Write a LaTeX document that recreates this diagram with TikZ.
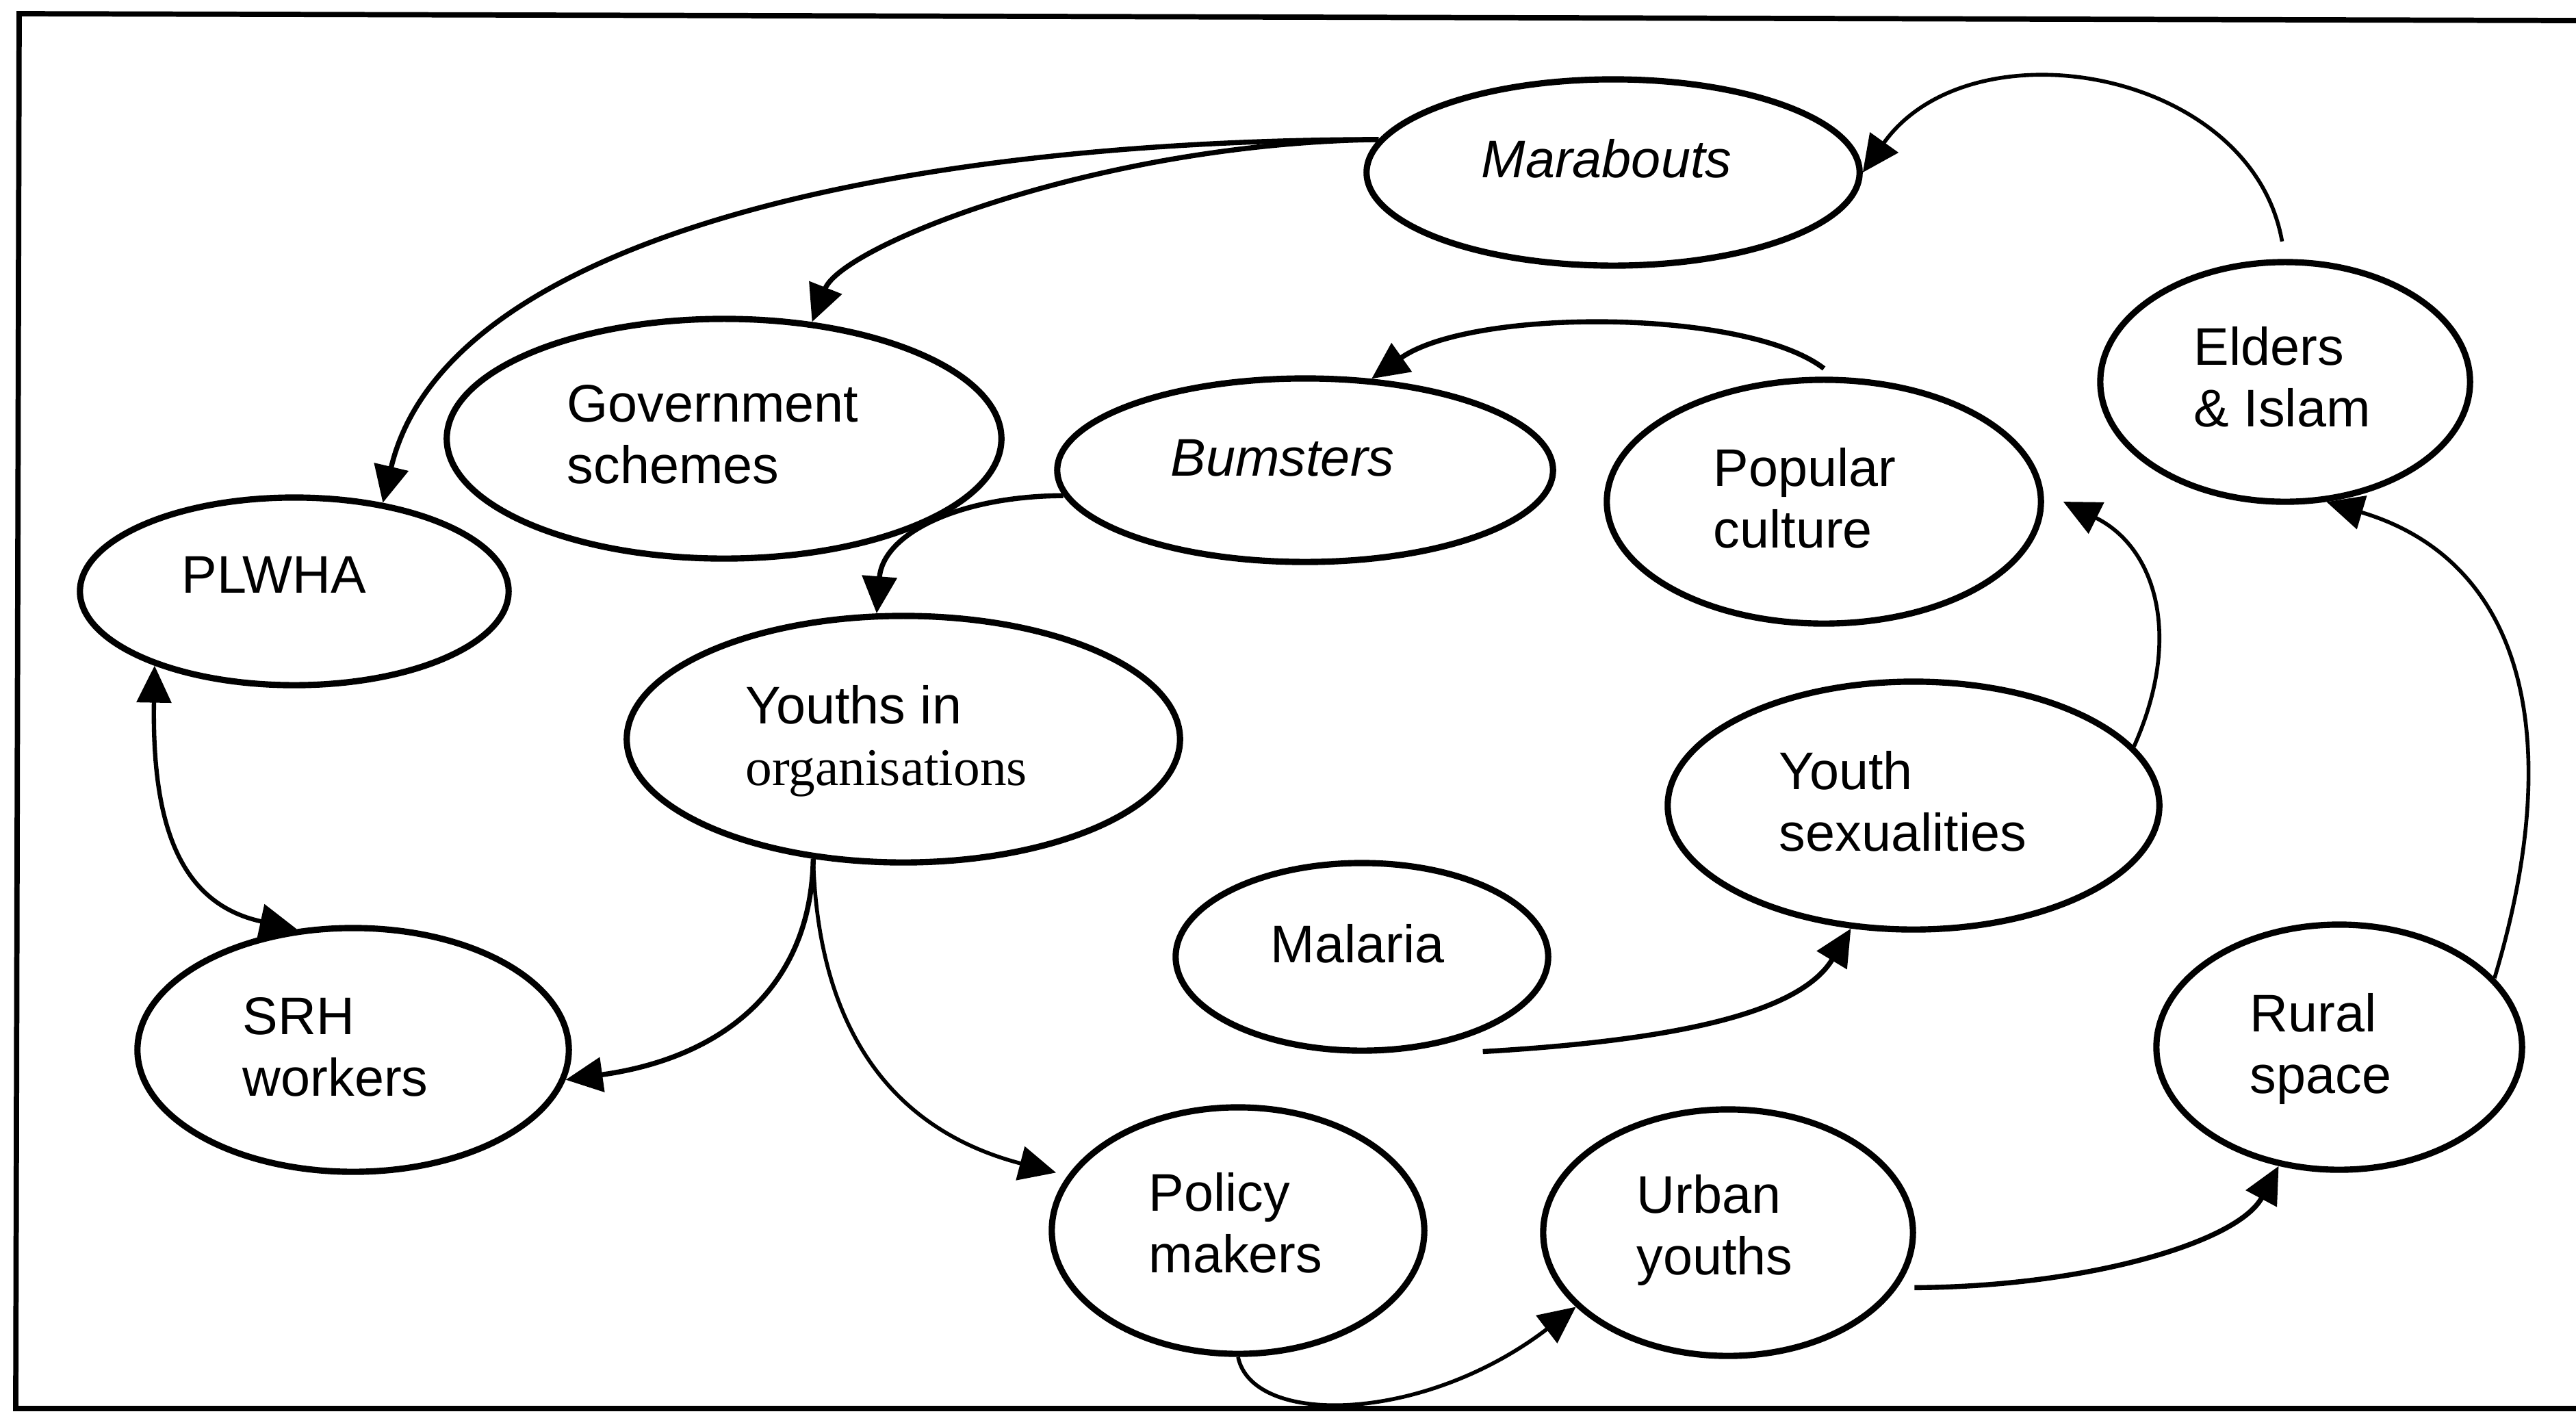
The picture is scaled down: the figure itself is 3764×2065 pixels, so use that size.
\documentclass[tikz,border=0pt]{standalone}
\usepackage{fontspec}
\setmainfont{Liberation Sans}
\newfontfamily\timesfont{Liberation Serif}
\usetikzlibrary{arrows.meta,shapes.geometric}

\begin{document}
\begin{tikzpicture}[x=0.01cm,y=-0.01cm,
  bubble/.style={draw, ellipse, line width=2.6pt, inner sep=0pt},
  lbl/.style={anchor=base west, inner sep=0pt, align=left,
              font=\fontsize{22}{25.6}\selectfont},
  conn/.style={-{Triangle[length=5.4mm,width=5mm]}, line width=2.1pt},
  connthin/.style={conn, line width=1.6pt},
  conntwo/.style={{Triangle[length=5.4mm,width=5mm]}-{Triangle[length=5.4mm,width=5mm]}, line width=1.8pt}
]
\useasboundingbox (0,0) rectangle (3764,2065);
\fill[white] (0,0) rectangle (3764,2065);

% frame (open on the right)
\draw[line width=2.2pt] (3764,30) -- (28,20) -- (23,2058) -- (3764,2058);

% bubbles
\node[bubble, minimum width=6.26cm, minimum height=2.74cm] (plw) at (430,864) {};
\node[bubble, minimum width=8.10cm, minimum height=3.50cm] (gov) at (1058,641) {};
\node[bubble, minimum width=7.20cm, minimum height=2.72cm] (mar) at (2357,252) {};
\node[bubble, minimum width=7.24cm, minimum height=2.68cm] (bum) at (1907,687) {};
\node[bubble, minimum width=6.34cm, minimum height=3.56cm] (pop) at (2665,733) {};
\node[bubble, minimum width=5.40cm, minimum height=3.50cm] (eld) at (3339,558) {};
\node[bubble, minimum width=8.08cm, minimum height=3.60cm] (yio) at (1320,1080) {};
\node[bubble, minimum width=6.30cm, minimum height=3.56cm] (srh) at (516,1534) {};
\node[bubble, minimum width=5.44cm, minimum height=2.74cm] (mal) at (1990,1398) {};
\node[bubble, minimum width=5.44cm, minimum height=3.60cm] (pol) at (1809,1798) {};
\node[bubble, minimum width=5.40cm, minimum height=3.60cm] (urb) at (2525,1801) {};
\node[bubble, minimum width=7.18cm, minimum height=3.62cm] (ysx) at (2796,1177) {};
\node[bubble, minimum width=5.34cm, minimum height=3.58cm] (rur) at (3418,1530) {};

% labels (multi-line labels are placed by the baseline of their last line)
\node[lbl] (plw-t) at (265,866) {PLWHA};
\node[lbl] (gov-t) at (828,706) {Government\\schemes};
\node[lbl] (mar-t) at (2164,259) {\itshape Marabouts};
\node[lbl] (bum-t) at (1710,695) {\itshape Bumsters};
\node[lbl] (pop-t) at (2503,800) {Popular\\culture};
\node[lbl] (eld-t) at (3205,623) {Elders\\\& Islam};
\node[lbl] (yio-t) at (1089,1147) {Youths in\\{\timesfont organisations}};
\node[lbl] (srh-t) at (354,1601) {SRH\\workers};
\node[lbl] (mal-t) at (1856,1406) {Malaria};
\node[lbl] (pol-t) at (1678,1859) {Policy\\makers};
\node[lbl] (urb-t) at (2391,1862) {Urban\\youths};
\node[lbl] (ysx-t) at (2599,1243) {Youth\\sexualities};
\node[lbl] (rur-t) at (3287,1597) {Rural\\space};

% connectors
\draw[conn] (mar.172.5) .. controls (1300,205) and (650,350) .. (plw.45);
\draw[conn] (mar.172.5) .. controls (1600,210) and (1230,360) .. (gov.53);
\draw[connthin, shorten <=0.26cm] (eld.north) .. controls (3290,100) and (2880,30) .. (mar.east);
\draw[conn, shorten <=0.2cm] (pop.85) .. controls (2550,450) and (2150,450) .. (bum.54);
\draw[conn] (bum.186) .. controls (1400,725) and (1290,780) .. (yio.102);
\draw[conn] (yio.233) .. controls (1185,1440) and (1060,1545) .. (srh.-8);
\draw[connthin] (yio.233) .. controls (1195,1500) and (1300,1650) .. ([xshift=-0.2cm]pol.161);
\draw[conntwo] (plw.208) .. controls (222,1200) and (260,1320) .. (srh.115);
\draw[conn] ([shift={(25,20)}]mal.-38) .. controls (2450,1520) and (2630,1480) .. (ysx.243.6);
\draw[connthin] (ysx.15) .. controls (3190,930) and (3150,800) .. ([xshift=0.28cm]pop.east);
\draw[connthin] (rur.24) .. controls (3750,1080) and (3690,820) .. (eld.289);
\draw[connthin] (pol.south) .. controls (1830,2085) and (2080,2080) .. (urb.206);
\draw[conn] ([xshift=0.25cm]urb.-18) .. controls (3050,1880) and (3270,1815) .. (rur.243);
\end{tikzpicture}
\end{document}
